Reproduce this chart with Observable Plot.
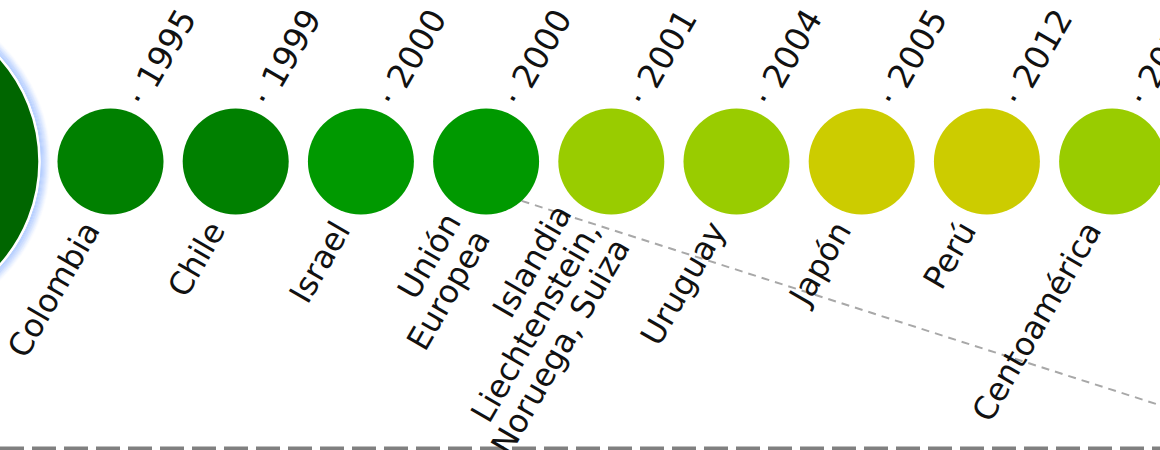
<!DOCTYPE html>
<html>
<head>
<meta charset="utf-8">
<script src="https://cdn.jsdelivr.net/npm/d3@7"></script>
<script src="https://cdn.jsdelivr.net/npm/@observablehq/plot@0.6"></script>
<style>
  html, body { margin: 0; padding: 0; background: #fff; }
  #chart svg { display: block; }
</style>
</head>
<body>
<div id="chart"></div>
<script>
// ---- data ----
const partners = ["Colombia", "Chile", "Israel", "Unión\nEuropea", "Islandia\nLiechtenstein,\nNoruega, Suiza", "Uruguay", "Japón", "Perú", "Centoamérica"];
const years = [1995, 1999, 2000, 2000, 2001, 2004, 2005, 2012, 2013];
const groups = [1, 1, 2, 2, 3, 3, 4, 4, 3];
const groupColors = ["#006600", "#008000", "#009900", "#99cc00", "#cccc00"];
const hubGroup = 0;

// ---- layout ----
const W = 1160, H = 450;
const ROW = 161;          // row of the circles
const R = 53;             // circle radius
const HUB_R = 155;        // big hub circle radius
const X0 = 110, STEP = 125.2;
const hubIndex = -1.805;  // hub centre, in circle-step units

const data = partners.map((p, i) => ({i, partner: p, year: years[i], group: groups[i]}));

// connector leaving the "Unión Europea" circle toward the lower right
const ue = data.find(d => d.partner.startsWith("Unión"));
const ang = 48 * Math.PI / 180, slope = 0.32;
const sx = ue.i + (R * Math.cos(ang)) / STEP, sy = ROW + R * Math.sin(ang);
const ex = 9.6, ey = sy + (ex - sx) * STEP * slope;
const connector = [{x1: sx, y1: sy, x2: ex, y2: ey}];

const glowOpacity = [0.9, 0.8, 0.7, 0.6, 0.5, 0.4, 0.3, 0.2, 0.12, 0.05];
const glow = glowOpacity.map((o, k) => ({k, r: HUB_R + 1.5 + k, o}));

const chart = Plot.plot({
  width: W,
  height: H,
  margin: 0,
  x: {domain: [0, 8], range: [X0, X0 + 8 * STEP], axis: null},
  y: {domain: [0, H], range: [0, H], axis: null},
  color: {type: "ordinal", domain: [0, 1, 2, 3, 4], range: groupColors},
  style: {fontFamily: "'DejaVu Sans', sans-serif", background: "white"},
  marks: [
    Plot.ruleY([H - 2], {stroke: "#808080", strokeWidth: 4, strokeDasharray: "24,8"}),
    Plot.link(connector, {x1: "x1", y1: "y1", x2: "x2", y2: "y2", stroke: "#a8a8a8", strokeWidth: 2, strokeDasharray: "8,6"}),
    ...glow.map(g => Plot.dot([g], {x: () => hubIndex, y: () => ROW, r: g.r, fill: "none", stroke: "#a9c6ff", strokeWidth: 1.2, strokeOpacity: g.o})),
    Plot.dot([{group: hubGroup}], {x: () => hubIndex, y: () => ROW, r: HUB_R, fill: "group", stroke: "white", strokeWidth: 2.5}),
    Plot.dot(data, {x: "i", y: () => ROW, r: R, fill: "group"}),
    Plot.text(data, {
      x: "i", y: () => ROW, text: "partner",
      rotate: -60, textAnchor: "end", lineAnchor: "middle", lineHeight: 1.05,
      dx: -19, dy: 63, fontSize: 32, fill: "#111"
    }),
    Plot.text(data, {
      x: "i", y: () => ROW, text: d => "· " + d.year,
      rotate: -60, textAnchor: "start", lineAnchor: "middle",
      dx: 25, dy: -58, fontSize: 33, fill: "#111"
    })
  ]
});
document.getElementById("chart").appendChild(chart);
</script>
</body>
</html>
